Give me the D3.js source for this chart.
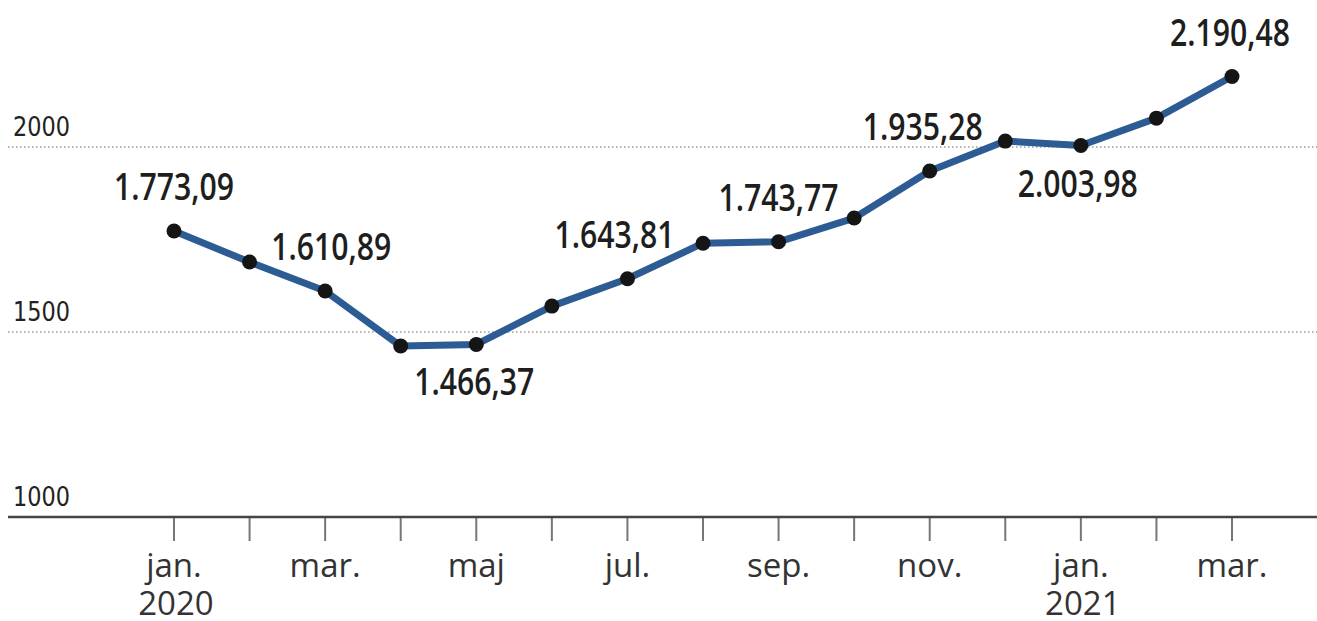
<html>
<head>
  <meta charset="utf-8" />
  <title>Indeks 2020-2021</title>
  <style>
    body { margin: 0; background: #fff; }
    svg { display: block; }
    .val { font-family: "Open Sans", "DejaVu Sans", sans-serif; font-weight: 600; font-size: 37px; fill: #1e1e1e; }
    .ytick { font-family: "DejaVu Sans", sans-serif; font-size: 27px; fill: #222; }
    .month { font-family: "Open Sans", "DejaVu Sans", sans-serif; font-size: 33px; fill: #333; }
  </style>
</head>
<body>
<svg width="1317" height="621"></svg>
<script src="https://cdnjs.cloudflare.com/ajax/libs/d3/7.8.5/d3.min.js"></script>
<script>
  // months jan 2020 .. mar 2021
  var months = ["jan.", "feb.", "mar.", "apr.", "maj", "jun.", "jul.", "aug.", "sep.", "okt.", "nov.", "dec.", "jan.", "feb.", "mar."];
  var years = ["2020", "", "", "", "", "", "", "", "", "", "", "", "2021", "", ""];
  var values = [1773.09, 1689, 1610.89, 1462, 1466.37, 1570, 1643.81, 1740, 1743.77, 1808, 1935.28, 2016, 2003.98, 2078, 2190.48];
  var shownMonths = [0, 2, 4, 6, 8, 10, 12, 14];
  var labelled = [0, 2, 4, 6, 8, 10, 12, 14];
  var labelBelow = [4, 12];
  var yTicks = [1000, 1500, 2000];

  var svg = d3.select("svg");
  var fmt = function (v) {
    return d3.format(",.2f")(v).replace(/,/g, "#").replace(".", ",").replace(/#/g, ".");
  };
  // small horizontal nudges for value labels
  var nudge = { 2: 6, 4: -2, 6: -13, 10: -7, 12: -3, 14: -2 };

  var x = d3.scalePoint().domain(d3.range(months.length)).range([174, 1232]);
  var y = d3.scaleLinear().domain([1000, 2000]).range([517, 147]);

  // gridlines
  svg.selectAll("line.grid")
    .data(yTicks.filter(function (d) { return d > 1000 }))
    .enter().append("line")
    .attr("x1", 8).attr("x2", 1317)
    .attr("y1", function (d) { return y(d) }).attr("y2", function (d) { return y(d) })
    .style("stroke", "#9a9a9a").style("stroke-width", 1.5)
    .style("stroke-dasharray", "1.5,2.5");

  svg.selectAll("text.ytick")
    .data(yTicks)
    .enter().append("text")
    .attr("class", "ytick")
    .attr("x", 13)
    .attr("y", function (d) { return y(d) - 11 })
    .attr("textLength", 57)
    .attr("lengthAdjust", "spacingAndGlyphs")
    .text(function (d) { return d });

  // month ticks
  svg.selectAll("line.tick")
    .data(d3.range(months.length))
    .enter().append("line")
    .attr("x1", function (d) { return x(d) }).attr("x2", function (d) { return x(d) })
    .attr("y1", 517).attr("y2", 541)
    .style("stroke", "#777").style("stroke-width", 2);

  svg.append("line")
    .attr("x1", 8).attr("x2", 1317).attr("y1", 517).attr("y2", 517)
    .style("stroke", "#444").style("stroke-width", 2.5);

  svg.selectAll("text.month")
    .data(shownMonths)
    .enter().append("text")
    .attr("class", "month")
    .attr("x", function (d) { return x(d) })
    .attr("y", 577)
    .style("text-anchor", "middle")
    .text(function (d) { return months[d] });

  svg.selectAll("text.year")
    .data(d3.range(months.length).filter(function (d) { return years[d] }))
    .enter().append("text")
    .attr("class", "month")
    .attr("x", function (d) { return x(d) + 2 })
    .attr("y", 615)
    .style("text-anchor", "middle")
    .text(function (d) { return years[d] });

  var line = d3.line()
    .x(function (d, i) { return x(i) })
    .y(function (d) { return y(d) });

  svg.append("path")
    .datum(values)
    .attr("d", line)
    .style("fill", "none")
    .style("stroke", "#2d5c94")
    .style("stroke-width", 7)
    .style("stroke-linejoin", "round");

  svg.selectAll("circle")
    .data(values)
    .enter().append("circle")
    .attr("cx", function (d, i) { return x(i) })
    .attr("cy", function (d) { return y(d) })
    .attr("r", 7.5)
    .style("fill", "#151515");

  svg.selectAll("text.val")
    .data(labelled)
    .enter().append("text")
    .attr("class", "val")
    .attr("x", function (d) { return x(d) + (nudge[d] || 0) - 60 })
    .attr("y", function (d) { return labelBelow.indexOf(d) >= 0 ? y(values[d]) + 51 : y(values[d]) - 31 })
    .attr("textLength", 120)
    .attr("lengthAdjust", "spacingAndGlyphs")
    .text(function (d) { return fmt(values[d]) });
</script>
</body>
</html>
